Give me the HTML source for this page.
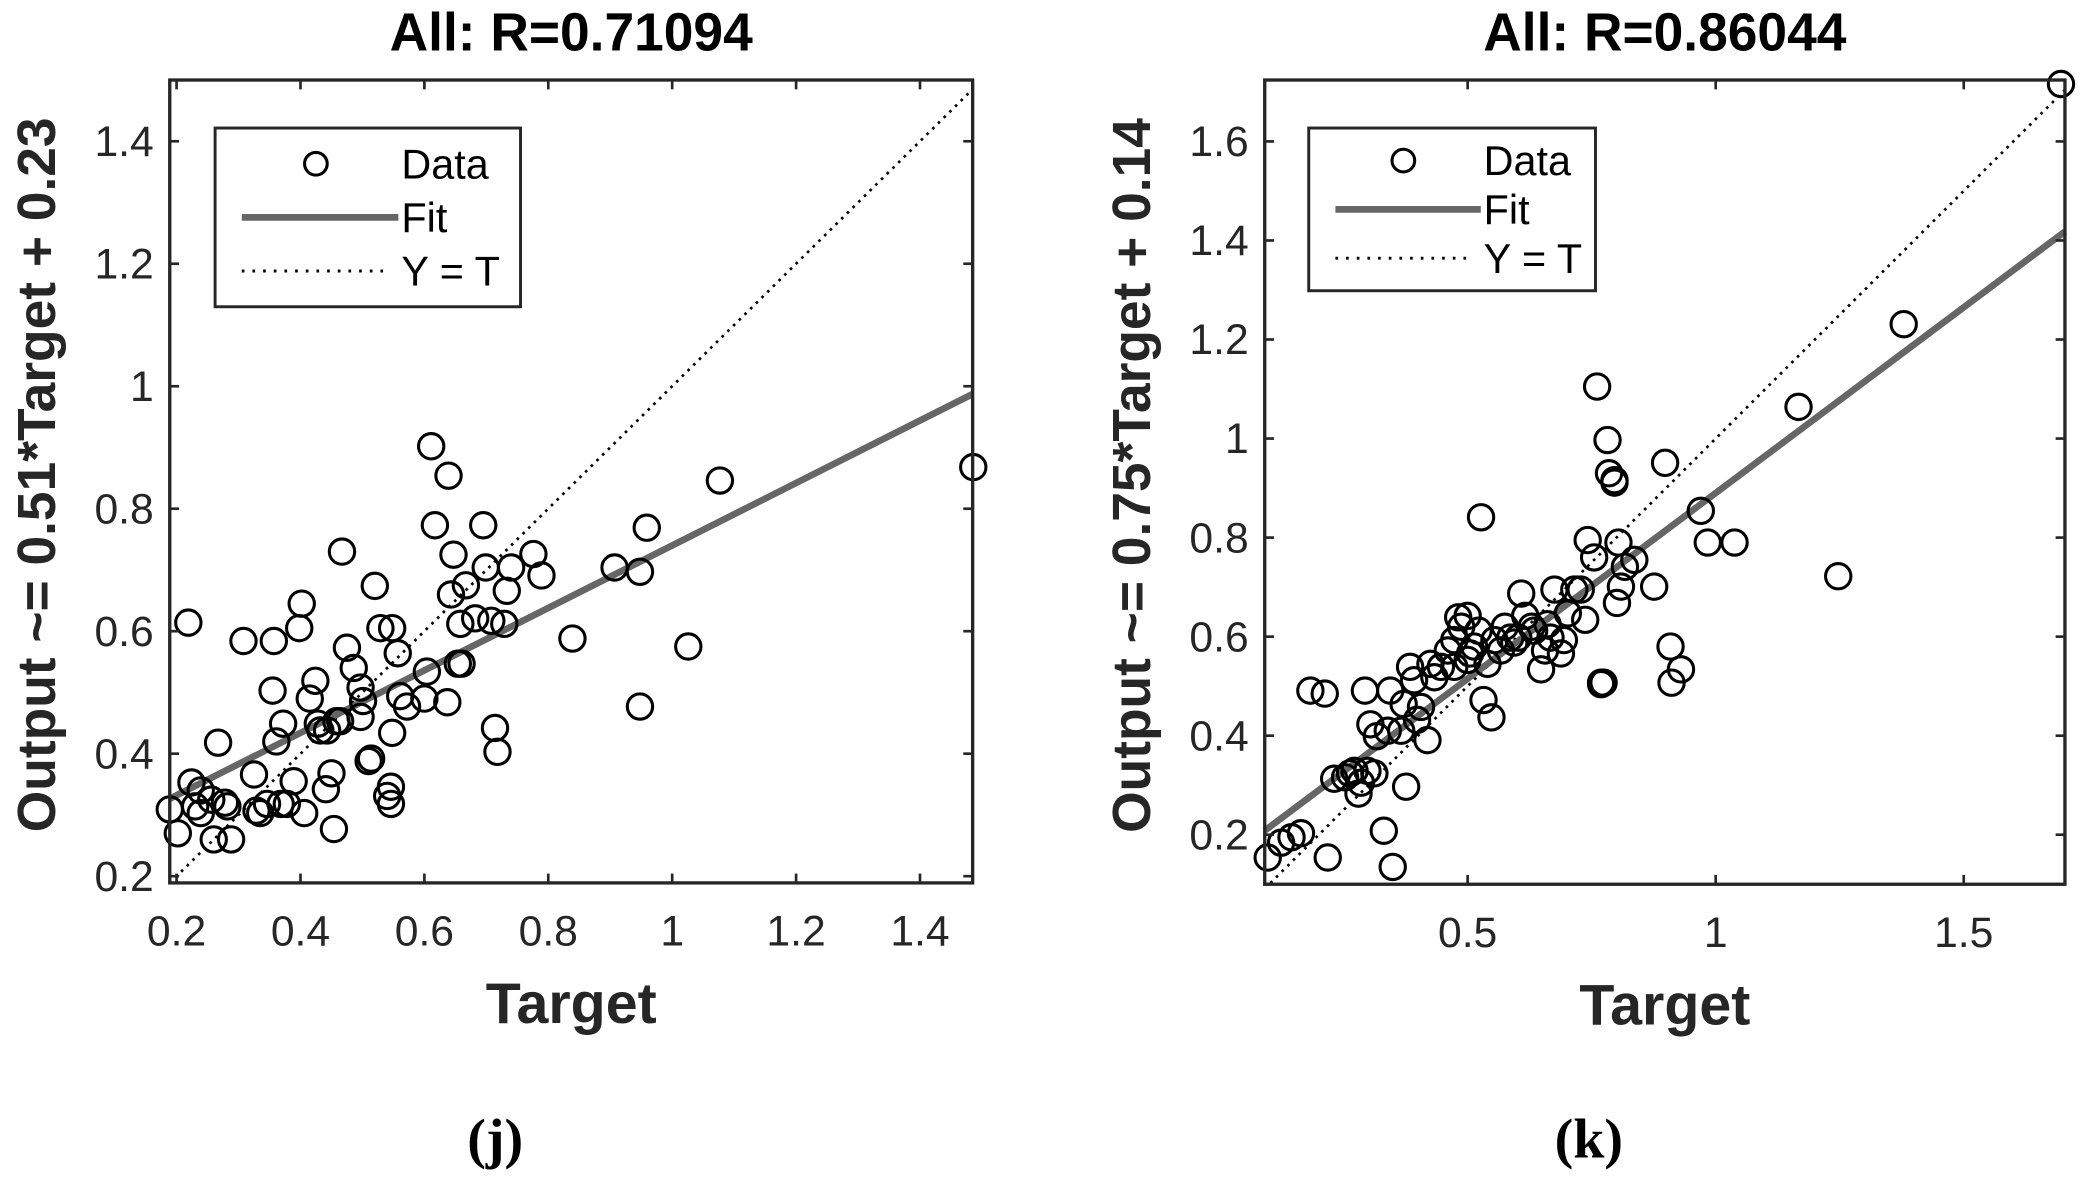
<!DOCTYPE html>
<html><head><meta charset="utf-8"><style>
html,body{margin:0;padding:0;background:#fff}
svg{display:block}
text{font-family:"Liberation Sans",Arial,sans-serif}
</style></head><body>
<svg id="fig" width="2092" height="1199" viewBox="0 0 1568 899"></svg>
<script>
const NS="http://www.w3.org/2000/svg";
const svg=document.getElementById('fig');
function mk(tag,attrs,parent){const e=document.createElementNS(NS,tag);for(const k in attrs)e.setAttribute(k,attrs[k]);(parent||svg).appendChild(e);return e;}

// ---------- data: panel j ----------
const jTitle="All: R=0.71094";
const jYLabel="Output ~= 0.51*Target + 0.23";
const jXTicks=[0.2,0.4,0.6,0.8,1,1.2,1.4];
const jXTickLabels=["0.2","0.4","0.6","0.8","1","1.2","1.4"];
const jYTicks=[0.2,0.4,0.6,0.8,1,1.2,1.4];
const jYTickLabels=["0.2","0.4","0.6","0.8","1","1.2","1.4"];
const jFit=[0.51,0.23];
const jX=[0.189,0.202,0.224,0.230,0.239,0.256,0.260,0.267,0.219,0.282,0.288,0.278,0.308,0.325,0.329,0.335,0.346,0.357,0.355,0.361,0.368,0.372,0.378,0.389,0.398,0.402,0.406,0.415,0.424,0.428,0.432,0.441,0.450,0.454,0.443,0.458,0.467,0.475,0.486,0.497,0.501,0.510,0.514,0.520,0.529,0.540,0.548,0.546,0.548,0.546,0.557,0.561,0.572,0.604,0.600,0.611,0.617,0.639,0.637,0.643,0.647,0.654,0.658,0.660,0.667,0.682,0.695,0.699,0.708,0.714,0.718,0.729,0.733,0.740,0.776,0.789,0.839,0.907,0.948,0.948,0.959,1.026,1.077,1.486,0.239,0.464,0.497];
const jY=[0.309,0.270,0.353,0.314,0.303,0.325,0.260,0.418,0.614,0.314,0.260,0.320,0.584,0.366,0.307,0.303,0.318,0.584,0.503,0.420,0.318,0.449,0.318,0.355,0.605,0.645,0.303,0.490,0.519,0.449,0.438,0.342,0.368,0.277,0.438,0.453,0.730,0.573,0.540,0.508,0.486,0.388,0.392,0.674,0.605,0.331,0.434,0.318,0.605,0.346,0.564,0.494,0.477,0.534,0.490,0.902,0.773,0.854,0.484,0.660,0.725,0.547,0.612,0.547,0.675,0.621,0.773,0.704,0.617,0.442,0.403,0.612,0.666,0.704,0.726,0.691,0.588,0.704,0.697,0.477,0.769,0.575,0.846,0.868,0.340,0.453,0.460];

// ---------- data: panel k ----------
const kTitle="All: R=0.86044";
const kYLabel="Output ~= 0.75*Target + 0.14";
const kXTicks=[0.5,1,1.5];
const kXTickLabels=["0.5","1","1.5"];
const kYTicks=[0.2,0.4,0.6,0.8,1,1.2,1.4,1.6];
const kYTickLabels=["0.2","0.4","0.6","0.8","1","1.2","1.4","1.6"];
const kFit=[0.75,0.14];
const kX=[0.097,0.124,0.145,0.164,0.183,0.212,0.218,0.231,0.253,0.263,0.272,0.280,0.285,0.293,0.298,0.304,0.312,0.317,0.331,0.339,0.344,0.349,0.366,0.371,0.376,0.384,0.392,0.398,0.406,0.419,0.425,0.433,0.446,0.460,0.473,0.481,0.487,0.500,0.505,0.513,0.522,0.527,0.532,0.540,0.548,0.554,0.567,0.575,0.586,0.594,0.602,0.608,0.616,0.629,0.634,0.648,0.656,0.661,0.667,0.675,0.688,0.694,0.702,0.715,0.728,0.737,0.742,0.755,0.761,0.769,0.774,0.782,0.785,0.796,0.796,0.801,0.804,0.809,0.817,0.836,0.876,0.898,0.911,0.909,0.930,0.970,0.984,1.038,1.167,1.247,1.379,1.696,0.769,0.473,0.500];
const kY=[0.154,0.184,0.195,0.203,0.491,0.485,0.154,0.313,0.316,0.324,0.329,0.283,0.305,0.491,0.329,0.423,0.324,0.399,0.208,0.410,0.491,0.135,0.410,0.464,0.297,0.539,0.512,0.432,0.458,0.391,0.545,0.518,0.539,0.572,0.539,0.639,0.620,0.642,0.566,0.580,0.612,0.841,0.472,0.545,0.437,0.593,0.572,0.620,0.598,0.588,0.598,0.687,0.642,0.620,0.612,0.534,0.572,0.625,0.598,0.695,0.566,0.593,0.647,0.695,0.695,0.634,0.795,0.760,1.105,0.507,0.507,0.997,0.930,0.916,0.911,0.668,0.790,0.701,0.741,0.755,0.701,0.951,0.507,0.580,0.534,0.854,0.790,0.790,1.064,0.722,1.231,1.716,0.504,0.593,0.553];

function panel(o){
  const g=mk('g',{});  
  const L=o.box[0],T=o.box[1],R=o.box[2],B=o.box[3];
  const sx=v=>L+(v-o.xr[0])/(o.xr[1]-o.xr[0])*(R-L);
  const sy=v=>B-(v-o.yr[0])/(o.yr[1]-o.yr[0])*(B-T);
  const cp=mk('clipPath',{id:o.name+'-clip'},g); mk('rect',{x:L,y:T,width:R-L,height:B-T},cp);
  const id=mk('line',{x1:sx(o.xr[0]),y1:sy(o.xr[0]),x2:sx(Math.min(o.xr[1],o.yr[1])),y2:sy(Math.min(o.xr[1],o.yr[1])),stroke:'#000','stroke-width':2,'stroke-dasharray':'2 4','clip-path':'url(#'+o.name+'-clip)'},g);
   
  const f=mk('line',{x1:sx(o.xr[0]),y1:sy(o.fit[0]*o.xr[0]+o.fit[1]),x2:sx(o.xr[1]),y2:sy(o.fit[0]*o.xr[1]+o.fit[1]),stroke:'#666','stroke-width':5},g);
   
  for(let i=0;i<o.xs.length;i++){
    const c=mk('circle',{cx:sx(o.xs[i]),cy:sy(o.ys[i]),r:9.5,fill:'none',stroke:'#000','stroke-width':2.3},g);
     
  }
  const bx=mk('rect',{x:L,y:T,width:R-L,height:B-T,fill:'none',stroke:'#262626','stroke-width':2.5},g);
   
  o.xt.forEach((v,i)=>{const x=sx(v);
    mk('line',{x1:x,y1:B,x2:x,y2:B-7,stroke:'#262626','stroke-width':2},g);
    mk('line',{x1:x,y1:T,x2:x,y2:T+7,stroke:'#262626','stroke-width':2},g);
    const t=mk('text',{x:x,y:B+47,'text-anchor':'middle','font-size':32,fill:'#262626'},g);t.textContent=o.xtl[i];
     });
  o.yt.forEach((v,i)=>{const y=sy(v);
    mk('line',{x1:L,y1:y,x2:L+7,y2:y,stroke:'#262626','stroke-width':2},g);
    mk('line',{x1:R,y1:y,x2:R-7,y2:y,stroke:'#262626','stroke-width':2},g);
    const t=mk('text',{x:L-12,y:y+11,'text-anchor':'end','font-size':32,fill:'#262626'},g);t.textContent=o.ytl[i];
     });
  const tt=mk('text',{x:(L+R)/2,y:T-22,'text-anchor':'middle','font-size':40,'font-weight':'bold',fill:'#000'},g);tt.textContent=o.title;
   
  const xl=mk('text',{x:(L+R)/2,y:B+105,'text-anchor':'middle','font-size':43,'font-weight':'bold',fill:'#262626'},g);xl.textContent='Target';
   
  const yl=mk('text',{x:0,y:0,'text-anchor':'middle','font-size':40,'font-weight':'bold',fill:'#262626',transform:'translate('+(L-86)+','+((T+B)/2-5)+') rotate(-90)'},g);yl.textContent=o.ylab;
   
  const lg=mk('g',{},g);  
  const [lx,ly,lw,lh]=o.leg;
  mk('rect',{x:lx,y:ly,width:lw,height:lh,fill:'#fff',stroke:'#262626','stroke-width':2.2},lg);
  const r1=ly+lh*0.2,r2=ly+lh*0.5,r3=ly+lh*0.8;
  mk('circle',{cx:lx+lw*0.33,cy:r1,r:8.5,fill:'none',stroke:'#000','stroke-width':2.3},lg);
  mk('line',{x1:lx+20,y1:r2,x2:lx+lw*0.6,y2:r2,stroke:'#666','stroke-width':5},lg);
  mk('line',{x1:lx+20,y1:r3,x2:lx+lw*0.55,y2:r3,stroke:'#000','stroke-width':2.2,'stroke-dasharray':'2 6'},lg);
  [['Data',r1],['Fit',r2],['Y = T',r3]].forEach(([s,y])=>{const t=mk('text',{x:lx+lw*0.61,y:y+11,'font-size':31,fill:'#000'},lg);t.textContent=s;
     });
  const cap=mk('text',{x:(L+R)/2-57,y:868,'text-anchor':'middle','font-size':42,'font-weight':'bold',fill:'#000'},g);
  cap.setAttribute('style','font-family:"Liberation Serif",serif');cap.textContent=o.cap;
   
}
panel({name:'panel-j',box:[127,60,729,662],xr:[0.189,1.485],yr:[0.189,1.5],xs:jX,ys:jY,fit:jFit,xt:jXTicks,xtl:jXTickLabels,yt:jYTicks,ytl:jYTickLabels,title:jTitle,ylab:jYLabel,leg:[161,96,229,134],cap:'(j)'});
panel({name:'panel-k',box:[948,60,1548,663],xr:[0.091,1.704],yr:[0.1,1.724],xs:kX,ys:kY,fit:kFit,xt:kXTicks,xtl:kXTickLabels,yt:kYTicks,ytl:kYTickLabels,title:kTitle,ylab:kYLabel,leg:[981,96,215,122],cap:'(k)'});
</script>
</body></html>
